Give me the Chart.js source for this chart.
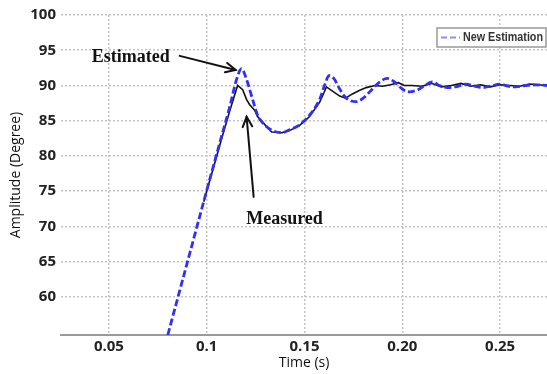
<!DOCTYPE html>
<html><head><meta charset="utf-8">
<script src="https://cdn.jsdelivr.net/npm/chart.js@4/dist/chart.umd.min.js"></script>
<style>html,body{margin:0;padding:0;background:#fff}#wrap{width:547px;height:374px}</style>
</head><body><div id="wrap"><canvas id="c" width="547" height="374"></canvas></div>
<script>
const estTime = [0.0801,0.09,0.1,0.108,0.112,0.1150,0.1178,0.1202,0.1235,0.1260,0.1296,0.1337,0.1383,0.1423,0.1474,0.1526,0.1577,0.1605,0.1625,0.1650,0.1680,0.1710,0.1740,0.1765,0.1800,0.1840,0.1880,0.1923,0.1960,0.2000,0.2036,0.2080,0.2120,0.2153,0.2190,0.2230,0.2270,0.2327,0.2370,0.2410,0.2450,0.2500,0.2540,0.2580,0.2630,0.2680,0.2740];
const estAmp = [54.6,64.8,75.1,83.2,87.2,90.6,92.4,91.0,88.0,85.8,84.4,83.6,83.3,83.7,84.4,85.8,88.0,90.2,91.4,91.0,89.5,88.3,87.8,87.7,88.2,89.3,90.4,91.0,90.5,89.5,89.1,89.4,90.1,90.5,90.0,89.7,89.8,90.2,89.9,89.7,89.9,90.2,89.9,89.8,90.0,90.1,90.0];
const measTime = [0.0985,0.1,0.108,0.112,0.1158,0.1184,0.1204,0.1219,0.1245,0.126,0.1286,0.1311,0.1332,0.1383,0.1423,0.1474,0.1526,0.1577,0.1600,0.1612,0.1643,0.1680,0.1710,0.1745,0.1780,0.1816,0.1860,0.1900,0.1940,0.1980,0.2010,0.2050,0.2100,0.2150,0.2200,0.2250,0.2300,0.2350,0.2400,0.2450,0.2500,0.2550,0.2600,0.2650,0.2740];
const measAmp = [73.5,75.0,82.8,86.6,90.0,89.4,88.0,87.3,86.5,85.6,84.8,84.0,83.4,83.3,83.6,84.3,85.6,87.6,89.0,89.8,89.2,88.5,88.2,88.8,89.3,89.7,90.0,89.9,90.1,90.4,90.0,90.0,89.9,90.3,89.8,90.0,90.3,89.9,90.1,89.8,90.1,90.0,89.9,90.2,90.0];
const xTickValues = [0.05,0.1,0.15,0.2,0.25];
const xTickLabels = ['0.05','0.1','0.15','0.20','0.25'];
const yTickValues = [60,65,70,75,80,85,90,95,100];
const seriesNames = ['New Estimation','Measured'];
const notes = [
  {text:'Estimated', x:0.0612, y:94.05, ax0:0.0862, ay0:94.2, ax1:0.1148, ay1:92.2},
  {text:'Measured', x:0.1398, y:70.96, ax0:0.124, ay0:74.2, ax1:0.1204, ay1:85.55}
];

const toPts = (xs, ys) => xs.map((x,i)=>({x:x, y:ys[i]}));

const annotPlugin = {
  id:'annot',
  afterDatasetsDraw(chart){
    const ctx = chart.ctx, xs = chart.scales.x, ys = chart.scales.y;
    ctx.save();
    notes.forEach(n=>{
      ctx.font = 'bold 18px "Liberation Serif", "Times New Roman", serif';
      ctx.fillStyle = '#111';
      ctx.textAlign = 'center'; ctx.textBaseline = 'middle';
      ctx.fillText(n.text, xs.getPixelForValue(n.x), ys.getPixelForValue(n.y));
      const x0 = xs.getPixelForValue(n.ax0), y0 = ys.getPixelForValue(n.ay0);
      const x1 = xs.getPixelForValue(n.ax1), y1 = ys.getPixelForValue(n.ay1);
      ctx.strokeStyle = '#111'; ctx.lineWidth = 2; ctx.lineCap='round';
      ctx.beginPath(); ctx.moveTo(x0,y0); ctx.lineTo(x1,y1); ctx.stroke();
      const ang = Math.atan2(y1-y0, x1-x0), L = 11, a = 0.45;
      ctx.beginPath();
      ctx.moveTo(x1 - L*Math.cos(ang-a), y1 - L*Math.sin(ang-a));
      ctx.lineTo(x1,y1);
      ctx.lineTo(x1 - L*Math.cos(ang+a), y1 - L*Math.sin(ang+a));
      ctx.stroke();
    });
    // legend box
    const ca = chart.chartArea;
    const bx = ca.right - 110, by = ca.top + 13, bw = 109, bh = 19;
    ctx.fillStyle = '#fff';
    ctx.fillRect(bx, by, bw, bh);
    ctx.strokeStyle = '#999'; ctx.lineWidth = 1.5; ctx.lineCap='butt';
    ctx.strokeRect(bx, by, bw, bh);
    ctx.strokeStyle = '#8c8cff'; ctx.lineWidth = 2; ctx.setLineDash([6,3]);
    ctx.beginPath(); ctx.moveTo(bx+4, by+bh/2); ctx.lineTo(bx+23, by+bh/2); ctx.stroke();
    ctx.setLineDash([]);
    ctx.font = 'bold 12px "Liberation Sans", Arial, sans-serif';
    const w = ctx.measureText(seriesNames[0]).width;
    ctx.save();
    ctx.translate(bx+26, by+bh/2+0.5);
    ctx.scale(80/w, 1);
    ctx.fillStyle = '#333'; ctx.textAlign='left'; ctx.textBaseline='middle';
    ctx.fillText(seriesNames[0], 0, 0);
    ctx.restore();
    ctx.restore();
  }
};

const bgPlugin = {id:'bg', beforeDraw(c){const x=c.ctx; x.save(); x.fillStyle='#fff'; x.fillRect(0,0,c.width,c.height); x.restore();}};

new Chart(document.getElementById('c'), {
  type:'scatter',
  data:{datasets:[
    {label:seriesNames[1], data:toPts(measTime, measAmp), showLine:true, borderColor:'#111', borderWidth:1.6, pointRadius:0, tension:0, order:2},
    {label:seriesNames[0], data:toPts(estTime, estAmp), showLine:true, borderColor:'#3030f8', borderWidth:2.8, borderDash:[7,3], pointRadius:0, cubicInterpolationMode:'monotone', order:1}
  ]},
  options:{
    responsive:false, animation:false, devicePixelRatio:1,
    layout:{padding:{top:15,right:0,left:0,bottom:0}},
    plugins:{legend:{display:false}, tooltip:{enabled:false}},
    scales:{
      x:{type:'linear', min:0.0255, max:0.274,
        afterBuildTicks:s=>{s.ticks = xTickValues.map(v=>({value:v}));},
        afterFit:s=>{s.height=39;},
        ticks:{callback:(v)=>{const i=xTickValues.findIndex(t=>Math.abs(t-v)<1e-9); return i>=0?xTickLabels[i]:'';}, font:{family:'"Open Sans"', size:15, weight:'bold'}, color:'#222', padding:3, maxRotation:0},
        grid:{color:'#c4c4c4', lineWidth:1.5, drawTicks:false},
        border:{display:true, color:'#9a9a9a', width:2, dash:[2,2]},
        title:{display:true, text:'Time (s)', font:{family:'"Open Sans"', size:14}, color:'#111', padding:{top:0,bottom:3}}
      },
      y:{type:'linear', min:54.6, max:100,
        afterBuildTicks:s=>{s.ticks = yTickValues.map(v=>({value:v}));},
        afterFit:s=>{s.width=61;},
        ticks:{font:{family:'"Open Sans"', size:15, weight:'bold'}, color:'#222', padding:5},
        grid:{color:'#c4c4c4', lineWidth:1.5, drawTicks:false},
        border:{display:false, dash:[2,2]},
        title:{display:true, text:'Amplitude (Degree)', font:{family:'"Open Sans"', size:14}, color:'#111', padding:{top:8,bottom:0}}
      }
    }
  },
  plugins:[bgPlugin, annotPlugin]
});
</script></body></html>
